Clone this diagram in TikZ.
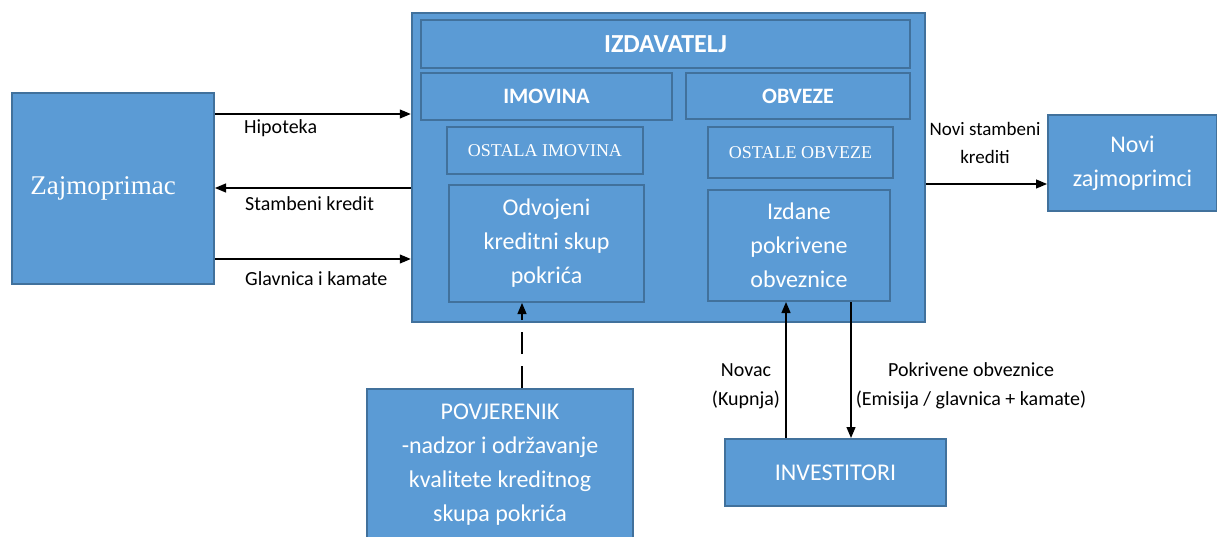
\documentclass[tikz,border=0pt]{standalone}
\usepackage{fontspec}
\setmainfont{Carlito}
\newfontfamily\serifface{Liberation Serif}
\usetikzlibrary{arrows.meta}
\definecolor{boxfill}{HTML}{5B9BD5}
\definecolor{boxline}{HTML}{41719C}
\begin{document}
\begin{tikzpicture}[x=1pt, y=-1pt,
    blok/.style={draw=boxline, fill=boxfill, line width=2pt, text=white, align=center, inner sep=0pt},
    veza/.style={line width=1.2pt, -{Triangle[length=11pt,width=9pt]}},
    oznaka/.style={font=\fontsize{20}{29}\selectfont, align=center, inner sep=0pt},
    velik/.style={font=\fontsize{24}{34}\selectfont}]
    \useasboundingbox (0,0) rectangle (1217,537);
    \clip (0,0) rectangle (1217,537);
    % izdavatelj i njegovi dijelovi
    \node[blok, line width=2.5pt, minimum width=513pt, minimum height=309pt] (izd) at (668.5,167.5) {};
    \node[blok, minimum width=489pt, minimum height=48pt, font=\fontsize{26}{30}\selectfont\bfseries] (naslov) at (665.5,44) {IZDAVATELJ};
    \node[blok, minimum width=251pt, minimum height=47pt, font=\fontsize{22}{26}\selectfont\bfseries] (imovina) at (546.5,96.5) {IMOVINA};
    \node[blok, minimum width=224pt, minimum height=46pt, font=\fontsize{22}{26}\selectfont\bfseries] (obveze) at (798,96) {OBVEZE};
    \node[blok, minimum width=196pt, minimum height=47pt, font=\fontsize{18}{22}\selectfont\serifface] (ostim) at (545,150.5) {OSTALA IMOVINA};
    \node[blok, minimum width=185pt, minimum height=51pt, font=\fontsize{18}{22}\selectfont\serifface] (ostob) at (800.5,152.5) {OSTALE OBVEZE};
    \node[blok, velik, minimum width=195pt, minimum height=117pt] (skup) at (546.5,243.5) {Odvojeni\\kreditni skup\\pokrića};
    \node[blok, velik, minimum width=182pt, minimum height=111pt] (izdane) at (799,245.5) {Izdane\\pokrivene\\obveznice};
    % vanjski sudionici
    \node[blok, minimum width=202pt, minimum height=191pt, font=\fontsize{27}{30}\selectfont\serifface] (zaj) at (113,188.5) {Zajmoprimac\hspace*{20pt}};
    \node[blok, velik, minimum width=169pt, minimum height=96pt] (novi) at (1132.5,163) {Novi\\zajmoprimci};
    \node[blok, velik, minimum width=266pt, minimum height=152pt] (povj) at (500,465) {POVJERENIK\\-nadzor i održavanje\\kvalitete kreditnog\\skupa pokrića};
    \node[blok, velik, minimum width=221pt, minimum height=67pt] (inv) at (835.5,472.5) {INVESTITORI};
    % veze
    \draw[veza] (zaj.east |- 0,114) -- (izd.west |- 0,114);
    \draw[veza] (izd.west |- 0,188) -- (zaj.east |- 0,188);
    \draw[veza] (zaj.east |- 0,259) -- (izd.west |- 0,259);
    \draw[veza] (izd.east |- 0,184) -- (novi.west |- 0,184);
    \draw[veza, dash pattern=on 22pt off 12pt] (povj.north -| 522,0) -- (skup.south -| 522,0);
    \draw[veza] (inv.north -| 786,0) -- (izdane.south -| 786,0);
    \draw[veza] (izdane.south -| 851,0) -- (inv.north -| 851,0);
    % oznake
    \node[oznaka, anchor=west] (hip) at (244,128) {Hipoteka};
    \node[oznaka, anchor=west] (stamb) at (245,204) {Stambeni kredit};
    \node[oznaka, anchor=west] (glav) at (245,279) {Glavnica i kamate};
    \node[oznaka, font=\fontsize{19}{28}\selectfont] (novikr) at (985,143) {Novi stambeni\\krediti};
    \node[oznaka] (novac) at (746,386) {Novac\\(Kupnja)};
    \node[oznaka] (pokr) at (971,386) {Pokrivene obveznice\\(Emisija / glavnica + kamate)};
\end{tikzpicture}
\end{document}
